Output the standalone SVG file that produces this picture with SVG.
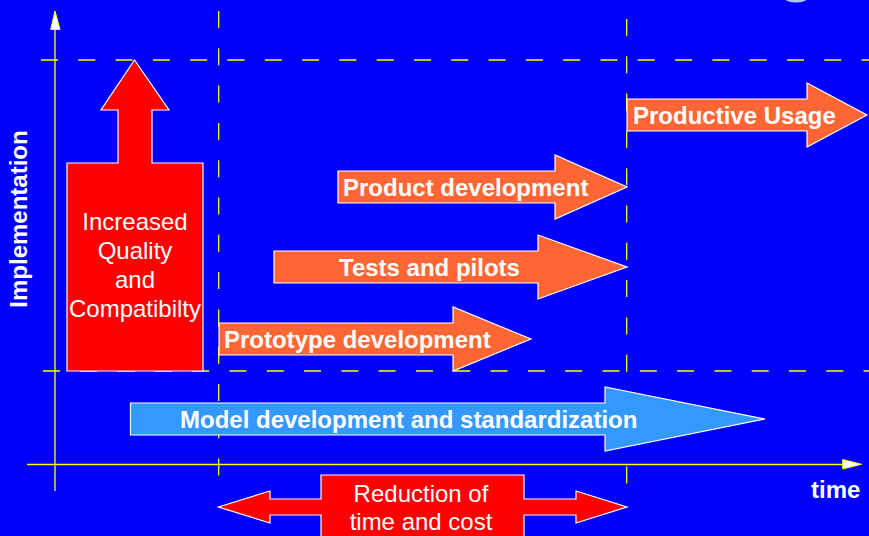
<svg xmlns="http://www.w3.org/2000/svg" width="869" height="536" viewBox="0 0 869 536">
<style>
.grid{stroke:#FFFF00;stroke-width:1.3;fill:none;stroke-dasharray:17 20.3}
.axis{stroke:#FFFF00;stroke-width:1.3;fill:none}
.ahead{fill:#FFFFFF;stroke:#FFFF00;stroke-width:1}
.orange{fill:#FF6633;stroke:#FFFFFF;stroke-width:1.2}
.blue{fill:#3399FF;stroke:#FFFFFF;stroke-width:1.2}
.red{fill:#FF0000;stroke:#FFFFFF;stroke-width:1.2}
.bt{font-family:"Liberation Sans",Arial,sans-serif;font-weight:bold;font-size:24px;fill:#FFFFFF}
.nt{font-family:"Liberation Sans",Arial,sans-serif;font-size:24px;fill:#FFFFFF}
</style>
<rect x="0" y="0" width="869" height="536" fill="#0000FF"/>
<ellipse cx="796" cy="-2" rx="11" ry="4" fill="#A8C8E8" stroke="#DDEEFF" stroke-width="0.8"/>
<g id="grid">
<line class="grid" x1="41" y1="60" x2="869" y2="60"/>
<line class="grid" x1="43" y1="371" x2="869" y2="371"/>
<line class="grid" x1="218.7" y1="11" x2="218.7" y2="478"/>
<line class="grid" x1="626.7" y1="19" x2="626.7" y2="485"/>
</g>
<g id="axes">
<line class="axis" x1="55" y1="28" x2="55" y2="491"/>
<polygon class="ahead" points="55,11 60,29.5 50.7,29.5"/>
<line class="axis" x1="27" y1="464.5" x2="845" y2="464.5"/>
<polygon class="ahead" points="861.5,464.3 842.7,459.5 842.7,469"/>
<text class="bt" transform="translate(27,219) rotate(-90)" text-anchor="middle">Implementation</text>
<text class="bt" x="811" y="498">time</text>
</g>
<g id="quality">
<polygon class="red" points="134.5,60 169,110 152,110 152,163 203,163 203,371 67,371 67,163 118,163 118,110 101,110"/>
<text class="nt" x="135" y="230" text-anchor="middle">Increased</text>
<text class="nt" x="135" y="259" text-anchor="middle">Quality</text>
<text class="nt" x="135" y="288" text-anchor="middle">and</text>
<text class="nt" x="135" y="317" text-anchor="middle">Compatibilty</text>
</g>
<g id="productive-usage">
<polygon class="orange" points="627,99 807,99 807,83 867,115 807,147 807,131 627,131"/>
<text class="bt" x="633" y="123.5">Productive Usage</text>
</g>
<g id="product-development">
<polygon class="orange" points="338,171 555,171 555,155 627,187 555,219 555,203 338,203"/>
<text class="bt" x="343" y="195.5">Product development</text>
</g>
<g id="tests-pilots">
<polygon class="orange" points="274,251 538,251 538,235 627,267 538,299 538,283 274,283"/>
<text class="bt" x="339" y="275.5">Tests and pilots</text>
</g>
<g id="prototype-development">
<polygon class="orange" points="219,323 453,323 453,307 531,339 453,371 453,355 219,355"/>
<text class="bt" x="224" y="347.5">Prototype development</text>
</g>
<g id="model-development">
<polygon class="blue" points="130.5,403 605,403 605,387 765,419 605,451 605,435 130.5,435"/>
<text class="bt" x="180" y="427.5">Model development and standardization</text>
</g>
<g id="reduction">
<polygon class="red" points="218.3,507 270,491 270,499 321,499 321,475 524,475 524,499 576,499 576,491 627,507 576,523 576,515 524,515 524,540 321,540 321,515 270,515 270,523"/>
<text class="nt" x="421" y="502" text-anchor="middle">Reduction of</text>
<text class="nt" x="421" y="530" text-anchor="middle">time and cost</text>
</g>
</svg>
